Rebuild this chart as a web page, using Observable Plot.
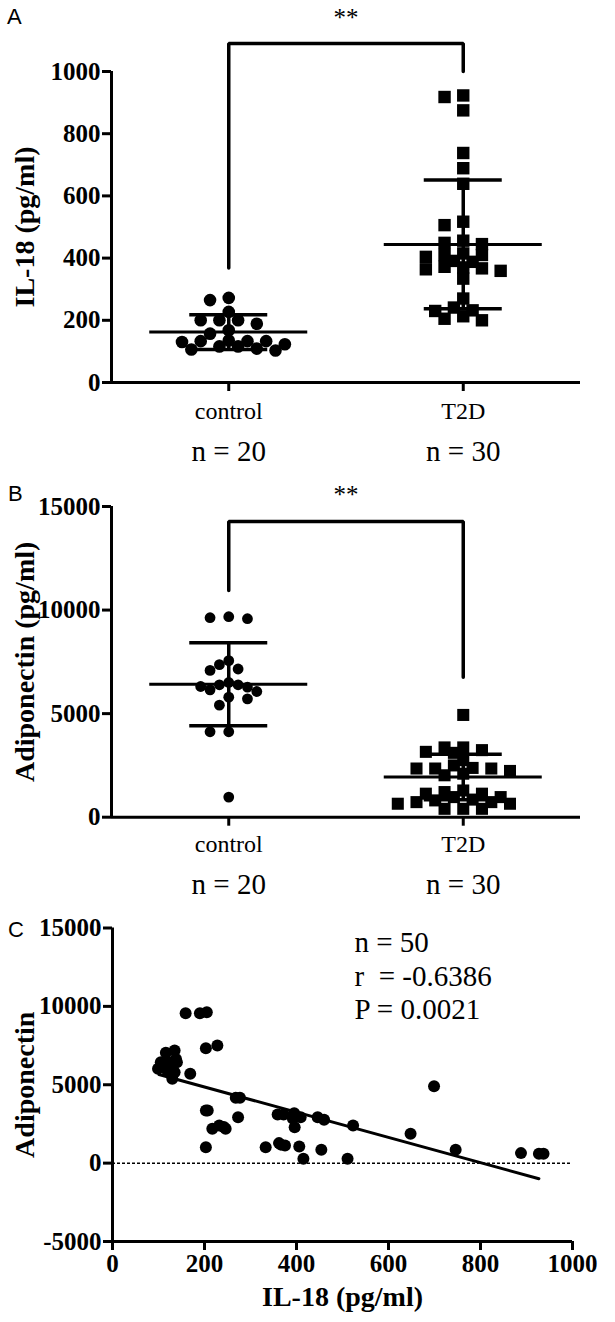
<!DOCTYPE html>
<html>
<head>
<meta charset="utf-8">
<script src="https://cdn.jsdelivr.net/npm/d3@7"></script>
<script src="https://cdn.jsdelivr.net/npm/@observablehq/plot@0.6"></script>
<style>
  body { margin: 0; background: #fff; }
  #fig { position: relative; width: 615px; height: 1322px; background: #fff; }
  #fig svg { position: absolute; left: 0; display: block; white-space: pre; }
  .letter { position: absolute; font-family: "Liberation Sans", Arial, sans-serif; font-size: 22px; line-height: 1; color: #000; }
</style>
</head>
<body>
<div id="fig"></div>
<script>
// ---------------- data ----------------
const groups = ["control", "T2D"];
const nLabels = ["n = 20", "n = 30"];

// Panel A: IL-18 (pg/ml)
const il18Control = [227, 265, 272, 200, 189, 200, 200, 168, 157, 130, 116, 116, 135, 109, 133, 133, 133, 103, 106, 123];
const il18T2D = [918, 923, 875, 738, 689, 639, 506, 517, 449, 445, 456, 415, 410, 404, 410, 391, 372, 367, 334, 359, 364, 370, 388, 270, 232, 213, 200, 205, 230, 241];
const il18Mean = [162, 444];
const il18SD = [56, 207];
const il18Bracket = [368, 1090, 1000]; // left leg end, top, right leg end
const il18Ticks = [0, 200, 400, 600, 800, 1000];

// Panel B: Adiponectin (pg/ml)
const adipoControl = [9631, 9583, 9680, 7364, 7558, 7087, 7155, 6311, 6393, 6393, 6505, 6282, 6150, 6068, 5796, 5714, 5408, 4126, 4126, 971];
const adipoT2D = [4937, 3369, 3369, 3238, 3155, 3107, 2752, 2500, 2350, 2350, 2350, 2379, 2233, 2024, 2100, 1290, 1213, 1136, 1136, 971, 971, 850, 811, 728, 728, 650, 650, 405, 405, 405];
const adipoMean = [6420, 1942];
const adipoSD = [2007, 1100];
const adipoBracket = [10940, 14280, 6760];
const adipoTicks = [0, 5000, 10000, 15000];

// Panel C: correlation
const corrIL18 = [159,190,205,203,228,116,135,105,123,140,99,119,135,130,169,268,277,203,207,273,217,232,246,203,333,362,375,406,415,454,511,359,372,395,409,396,446,460,523,699,648,746,888,927,937,112,138,242,366,392];
const corrAdipo = [9566,9566,9630,7334,7506,7041,7187,6441,6441,6441,6020,5914,5804,5383,5701,4170,4170,3361,3361,2934,2194,2404,2194,1020,1020,1276,1129,1064,281,855,281,3106,3106,3189,2934,2296,2934,2768,2404,4911,1875,855,638,600,600,6300,6650,2300,1180,2850];
const fitIL18 = [101, 927];
const fitAdipo = [5657, -995];
const statsLines = ["n = 50", "r  = -0.6386", "P = 0.0021"];
const corrXTicks = [0, 200, 400, 600, 800, 1000];
const corrYTicks = [-5000, 0, 5000, 10000, 15000];

// ---------------- helpers ----------------
const SERIF = '"Liberation Serif", "Times New Roman", Times, serif';
const W = 615;

// simple beeswarm layout (pixel offsets) computed from the values
function swarmOffsets(values, pxPerUnit, step, dist) {
  const order = d3.range(values.length).sort((a, b) => values[b] - values[a]);
  const placed = [];
  const off = new Array(values.length);
  for (const i of order) {
    const y = values[i] * pxPerUnit;
    let done = false;
    for (let k = 0; !done && k < 60; k++) {
      const cands = k === 0 ? [0] : [-k, k];
      for (const c of cands) {
        const x = c * step;
        if (placed.every(p => Math.hypot(p.x - x, p.y - y) >= dist)) {
          off[i] = x; placed.push({x, y}); done = true; break;
        }
      }
    }
  }
  return off;
}

function dotPanel(cfg) {
  const {height, mt, mb, ml, mr, yMax, ticks, series, mean, sd, bracket, starDy,
         circleR, squareR, distC, distS, yTitle, catPad, nPad} = cfg;
  const plotH = height - mt - mb;
  const plotW = W - ml - mr;
  const pxPerUnit = plotH / yMax;
  const unitsPerPx = 2 / plotW;
  const step = 9.35;
  const rows = [];
  series.forEach((vals, g) => {
    const off = swarmOffsets(vals, pxPerUnit, step, g === 0 ? distC : distS);
    vals.forEach((v, j) => rows.push({g, v, x: g + 0.5 + off[j] * unitsPerPx}));
  });
  const stats = groups.map((name, i) => ({i, mean: mean[i], sd: sd[i]}));
  const MW = 79 * unitsPerPx, CW = 39 * unitsPerPx;
  const br = [
    {g: 0, v: bracket[0]}, {g: 0, v: bracket[1]},
    {g: 1, v: bracket[1]}, {g: 1, v: bracket[2]}
  ];
  return Plot.plot({
    width: W, height,
    marginTop: mt, marginBottom: mb, marginLeft: ml, marginRight: mr,
    x: {domain: [0, 2], axis: null},
    y: {domain: [0, yMax], axis: null},
    style: {fontFamily: SERIF, color: "#000", background: "transparent", overflow: "visible"},
    marks: [
      Plot.ruleX([0], {y1: 0, y2: yMax, strokeWidth: 3}),
      Plot.ruleY([0], {x1: 0, x2: 2, strokeWidth: 3}),
      Plot.axisY({ticks, tickSize: 9, tickPadding: 2, strokeWidth: 3, fontSize: 25, fontWeight: "bold",
                  tickFormat: d => String(d), label: null}),
      Plot.axisX({ticks: [0.5, 1.5], tickFormat: d => groups[Math.floor(d)], tickSize: 9, strokeWidth: 3,
                  tickPadding: catPad, fontSize: 24, label: null}),
      Plot.axisX({ticks: [0.5, 1.5], tickFormat: d => nLabels[Math.floor(d)], tickSize: 0,
                  tickPadding: nPad, fontSize: 29, label: null}),
      Plot.text([yTitle], {frameAnchor: "left", textAnchor: "middle", dx: 25 - ml, rotate: -90, fontSize: 28, fontWeight: "bold"}),
      // bracket + significance
      Plot.line(br, {x: d => d.g + 0.5, y: "v", strokeWidth: 3.5, strokeLinejoin: "miter"}),
      Plot.text(["**"], {x: 1, y: bracket[1], dy: starDy, fontSize: 25}),
      // points
      Plot.dot(rows.filter(d => d.g === 0), {x: "x", y: "v", r: circleR, fill: "black", stroke: "none"}),
      Plot.dot(rows.filter(d => d.g === 1), {x: "x", y: "v", r: squareR, symbol: "square", fill: "black", stroke: "none"}),
      // mean and SD
      Plot.ruleY(stats, {y: "mean", x1: d => d.i + 0.5 - MW, x2: d => d.i + 0.5 + MW, strokeWidth: 3}),
      Plot.ruleX(stats, {x: d => d.i + 0.5, y1: d => d.mean - d.sd, y2: d => d.mean + d.sd, strokeWidth: 3.5}),
      Plot.ruleY(stats, {y: d => d.mean + d.sd, x1: d => d.i + 0.5 - CW, x2: d => d.i + 0.5 + CW, strokeWidth: 3.5}),
      Plot.ruleY(stats, {y: d => d.mean - d.sd, x1: d => d.i + 0.5 - CW, x2: d => d.i + 0.5 + CW, strokeWidth: 3.5})
    ]
  });
}

const fig = document.getElementById("fig");

// Panel A
const svgA = dotPanel({
  height: 470, mt: 71, mb: 88, ml: 111, mr: 35, yMax: 1000, ticks: il18Ticks,
  series: [il18Control, il18T2D], mean: il18Mean, sd: il18SD, bracket: il18Bracket, starDy: -26,
  circleR: 6.3, squareR: 7.0, distC: 10.2, distS: 10.8, yTitle: "IL-18 (pg/ml)", catPad: 10, nPad: 58
});
svgA.style.top = "0px";
fig.appendChild(svgA);

// Panel B
const svgB = dotPanel({
  height: 430, mt: 36, mb: 83.3, ml: 111, mr: 35, yMax: 15000, ticks: adipoTicks,
  series: [adipoControl, adipoT2D], mean: adipoMean, sd: adipoSD, bracket: adipoBracket, starDy: -26,
  circleR: 5.4, squareR: 6.8, distC: 9.6, distS: 10.5, yTitle: "Adiponectin (pg/ml)", catPad: 9, nPad: 56
});
svgB.style.top = "470px";
fig.appendChild(svgB);

// Panel C
const corr = corrIL18.map((x, i) => ({x, y: corrAdipo[i]}));
const fit = fitIL18.map((x, i) => ({x, y: fitAdipo[i]}));
const svgC = Plot.plot({
  width: W, height: 422,
  marginTop: 27.5, marginBottom: 81, marginLeft: 112, marginRight: 43,
  x: {domain: [0, 1000], axis: null},
  y: {domain: [-5000, 15000], axis: null},
  style: {fontFamily: SERIF, color: "#000", background: "transparent", overflow: "visible"},
  marks: [
    Plot.ruleX([0], {y1: -5000, y2: 15000, strokeWidth: 3}),
    Plot.ruleY([-5000], {x1: 0, x2: 1000, strokeWidth: 3}),
    Plot.axisY({ticks: corrYTicks, tickSize: 9, tickPadding: 2, strokeWidth: 3, fontSize: 25, fontWeight: "bold",
                tickFormat: d => String(d), label: null}),
    Plot.axisX({ticks: corrXTicks, tickSize: 9, tickPadding: 4, strokeWidth: 3, fontSize: 25, fontWeight: "bold",
                tickFormat: d => String(d), label: null}),
    Plot.ruleY([0], {x1: 0, x2: 1000, strokeWidth: 1.5, strokeDasharray: "3,2"}),
    Plot.line(fit, {x: "x", y: "y", strokeWidth: 3}),
    Plot.dot(corr, {x: "x", y: "y", r: 6, fill: "black", stroke: "none"}),
    Plot.text([statsLines.join("\n")], {frameAnchor: "top-left", dx: 242, dy: 1, textAnchor: "start",
               lineAnchor: "top", lineHeight: 1.14, fontSize: 29}),
    Plot.text(["IL-18 (pg/ml)"], {frameAnchor: "bottom", dy: 64, fontSize: 28, fontWeight: "bold"}),
    Plot.text(["Adiponectin"], {frameAnchor: "left", textAnchor: "middle", dx: 25 - 112, rotate: -90, fontSize: 28, fontWeight: "bold"})
  ]
});
svgC.style.top = "900px";
fig.appendChild(svgC);

// panel letters
[["A", 7, 6.4], ["B", 8, 483.4], ["C", 8, 919.4]].forEach(([t, l, tp]) => {
  const d = document.createElement("div");
  d.className = "letter";
  d.textContent = t;
  d.style.left = l + "px";
  d.style.top = tp + "px";
  fig.appendChild(d);
});
</script>
</body>
</html>
